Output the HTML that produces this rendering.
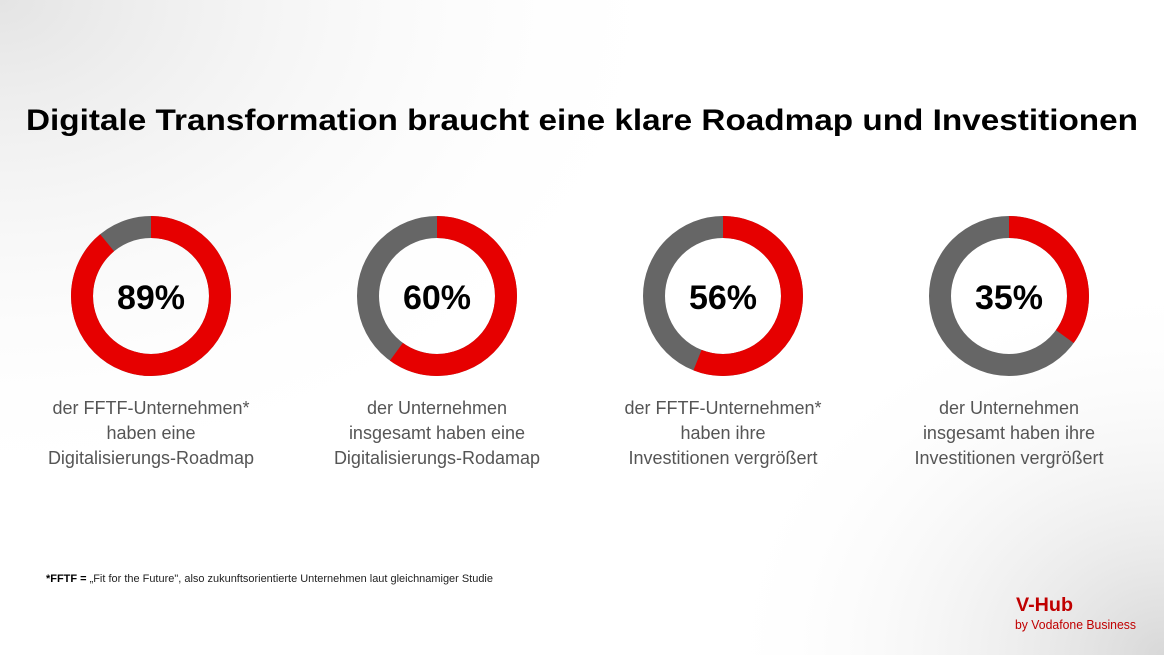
<!DOCTYPE html>
<html><head><meta charset="utf-8"><style>
html,body{margin:0;padding:0;width:1164px;height:655px;overflow:hidden}
body{background:#fff}
</style></head><body>
<svg width="1164" height="655" viewBox="0 0 1164 655" xmlns="http://www.w3.org/2000/svg" font-family="Liberation Sans, sans-serif">
<defs>
<radialGradient id="g1" cx="0" cy="0" r="1" gradientUnits="userSpaceOnUse" gradientTransform="translate(0,0) scale(700,500)">
<stop offset="0" stop-color="#e4e4e4"/><stop offset="1" stop-color="#fff" stop-opacity="0"/></radialGradient>
<radialGradient id="g2" cx="0" cy="0" r="1" gradientUnits="userSpaceOnUse" gradientTransform="translate(1164,655) scale(450,380)">
<stop offset="0" stop-color="#d8d8d8"/><stop offset="1" stop-color="#fff" stop-opacity="0"/></radialGradient>
</defs>
<rect width="1164" height="655" fill="#fff"/>
<rect width="1164" height="655" fill="url(#g1)"/>
<rect width="1164" height="655" fill="url(#g2)"/>
<text x="582" y="130" text-anchor="middle" font-size="30" font-weight="bold" fill="#000" textLength="1112" lengthAdjust="spacingAndGlyphs">Digitale Transformation braucht eine klare Roadmap und Investitionen</text>

<g fill="none" stroke-width="22">
<circle cx="151" cy="296" r="69" stroke="#666"/>
<circle cx="151" cy="296" r="69" stroke="#e60000" stroke-dasharray="385.8 433.5" transform="rotate(-90 151 296)"/>
<circle cx="437" cy="296" r="69" stroke="#666"/>
<circle cx="437" cy="296" r="69" stroke="#e60000" stroke-dasharray="260.1 433.5" transform="rotate(-90 437 296)"/>
<circle cx="723" cy="296" r="69" stroke="#666"/>
<circle cx="723" cy="296" r="69" stroke="#e60000" stroke-dasharray="242.8 433.5" transform="rotate(-90 723 296)"/>
<circle cx="1009" cy="296" r="69" stroke="#666"/>
<circle cx="1009" cy="296" r="69" stroke="#e60000" stroke-dasharray="151.7 433.5" transform="rotate(-90 1009 296)"/>
</g>
<g font-size="34" font-weight="bold" text-anchor="middle" fill="#000">
<text x="151" y="309">89%</text><text x="437" y="309">60%</text><text x="723" y="309">56%</text><text x="1009" y="309">35%</text>
</g>
<g font-size="18" text-anchor="middle" fill="#555">
<text x="151" y="414">der FFTF-Unternehmen*</text><text x="151" y="439">haben eine</text><text x="151" y="464">Digitalisierungs-Roadmap</text>
<text x="437" y="414">der Unternehmen</text><text x="437" y="439">insgesamt haben eine</text><text x="437" y="464">Digitalisierungs-Rodamap</text>
<text x="723" y="414">der FFTF-Unternehmen*</text><text x="723" y="439">haben ihre</text><text x="723" y="464">Investitionen vergrößert</text>
<text x="1009" y="414">der Unternehmen</text><text x="1009" y="439">insgesamt haben ihre</text><text x="1009" y="464">Investitionen vergrößert</text>
</g>
<text x="46" y="582" font-size="11" fill="#222" textLength="447" lengthAdjust="spacingAndGlyphs"><tspan font-weight="bold" fill="#000">*FFTF =</tspan> „Fit for the Future", also zukunftsorientierte Unternehmen laut gleichnamiger Studie</text>
<text x="1016" y="611" font-size="19" font-weight="bold" fill="#c00000" textLength="57" lengthAdjust="spacingAndGlyphs">V-Hub</text>
<text x="1015" y="629" font-size="12.5" fill="#c00000" textLength="121" lengthAdjust="spacingAndGlyphs">by Vodafone Business</text>
</svg>
</body></html>
